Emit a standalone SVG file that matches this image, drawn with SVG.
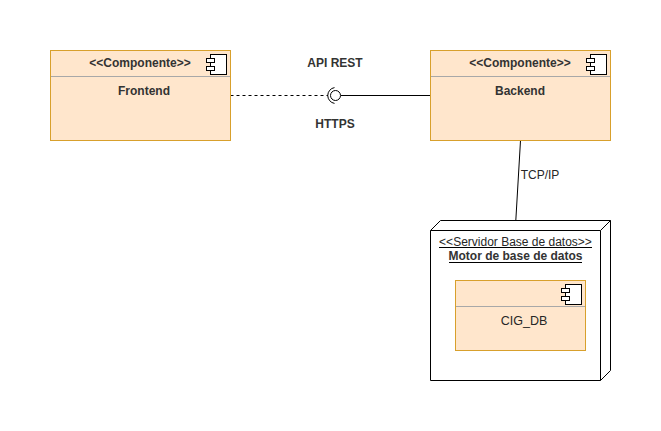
<svg xmlns="http://www.w3.org/2000/svg" width="661" height="431" viewBox="0 0 661 431">
<style>
text{font-family:"Liberation Sans",Arial,sans-serif;font-size:12px;fill:#262626;text-anchor:middle}
.b{font-weight:bold;fill:#333}
.box{fill:#ffe6cc;stroke:#d8a02c;stroke-width:1}
.sep{stroke:#a8a8a8;stroke-width:1;fill:none}
.ln{stroke:#000;stroke-width:1;fill:none}
.ic{stroke:#000;stroke-width:1;fill:#fff}
</style>
<defs>
<g id="icon">
<rect class="ic" x="-16" y="0" width="16" height="20"/>
<rect class="ic" x="-20" y="4" width="8" height="4"/>
<rect class="ic" x="-20" y="12" width="8" height="4"/>
</g>
</defs>
<rect width="661" height="431" fill="#fff"/>
<g id="connectors">
<path class="ln" d="M230.500 95.500H328" stroke-dasharray="3 3"/>
<path class="ln" d="M341 95.500H430.500"/>
<path class="ln" d="M520.500 140.500L515.800 220.500"/>
</g>
<g id="frontend">
<rect class="box" x="50.500" y="50.500" width="180" height="90"/>
<path class="sep" d="M51 76.500H230"/>
<use href="#icon" x="226.500" y="54.500"/>
<text class="b" x="140" y="67">&lt;&lt;Componente&gt;&gt;</text>
<text class="b" x="144" y="94.500">Frontend</text>
</g>
<g id="interface">
<circle cx="335.500" cy="95.500" r="5" fill="#fff" stroke="#000"/>
<path class="ln" d="M334.500 87.600A8 8 0 0 0 334.500 103.400"/>
<text class="b" x="335" y="67">API REST</text>
<text class="b" x="335" y="128">HTTPS</text>
</g>
<g id="backend">
<rect class="box" x="430.500" y="50.500" width="180" height="90"/>
<path class="sep" d="M431 76.500H610"/>
<use href="#icon" x="606.500" y="54.500"/>
<text class="b" x="520" y="67">&lt;&lt;Componente&gt;&gt;</text>
<text class="b" x="520" y="94.500">Backend</text>
</g>
<text id="tcp" x="540" y="178.500">TCP/IP</text>
<g id="db-node">
<path d="M430.500 230.500L440.500 220.500H610.500V370.500L600.500 380.500H430.500Z" fill="#fff" stroke="#000"/>
<path class="ln" d="M430.500 230.500H600.500L610.500 220.500M600.500 230.500V380.500"/>
<text x="515.500" y="246">&lt;&lt;Servidor Base de datos&gt;&gt;</text>
<path class="ln" d="M439 247.500H592"/>
<text class="b" x="515.500" y="260">Motor de base de datos</text>
<path d="M449 262.500H582" class="ln"/>
</g>
<g id="cig-db">
<rect class="box" x="455.500" y="280.500" width="130" height="70"/>
<path class="sep" d="M456 306.500H585"/>
<use href="#icon" x="581.500" y="284.500"/>
<text x="524" y="325" font-size="12.500" style="font-size:12.500px">CIG_DB</text>
</g>
</svg>
